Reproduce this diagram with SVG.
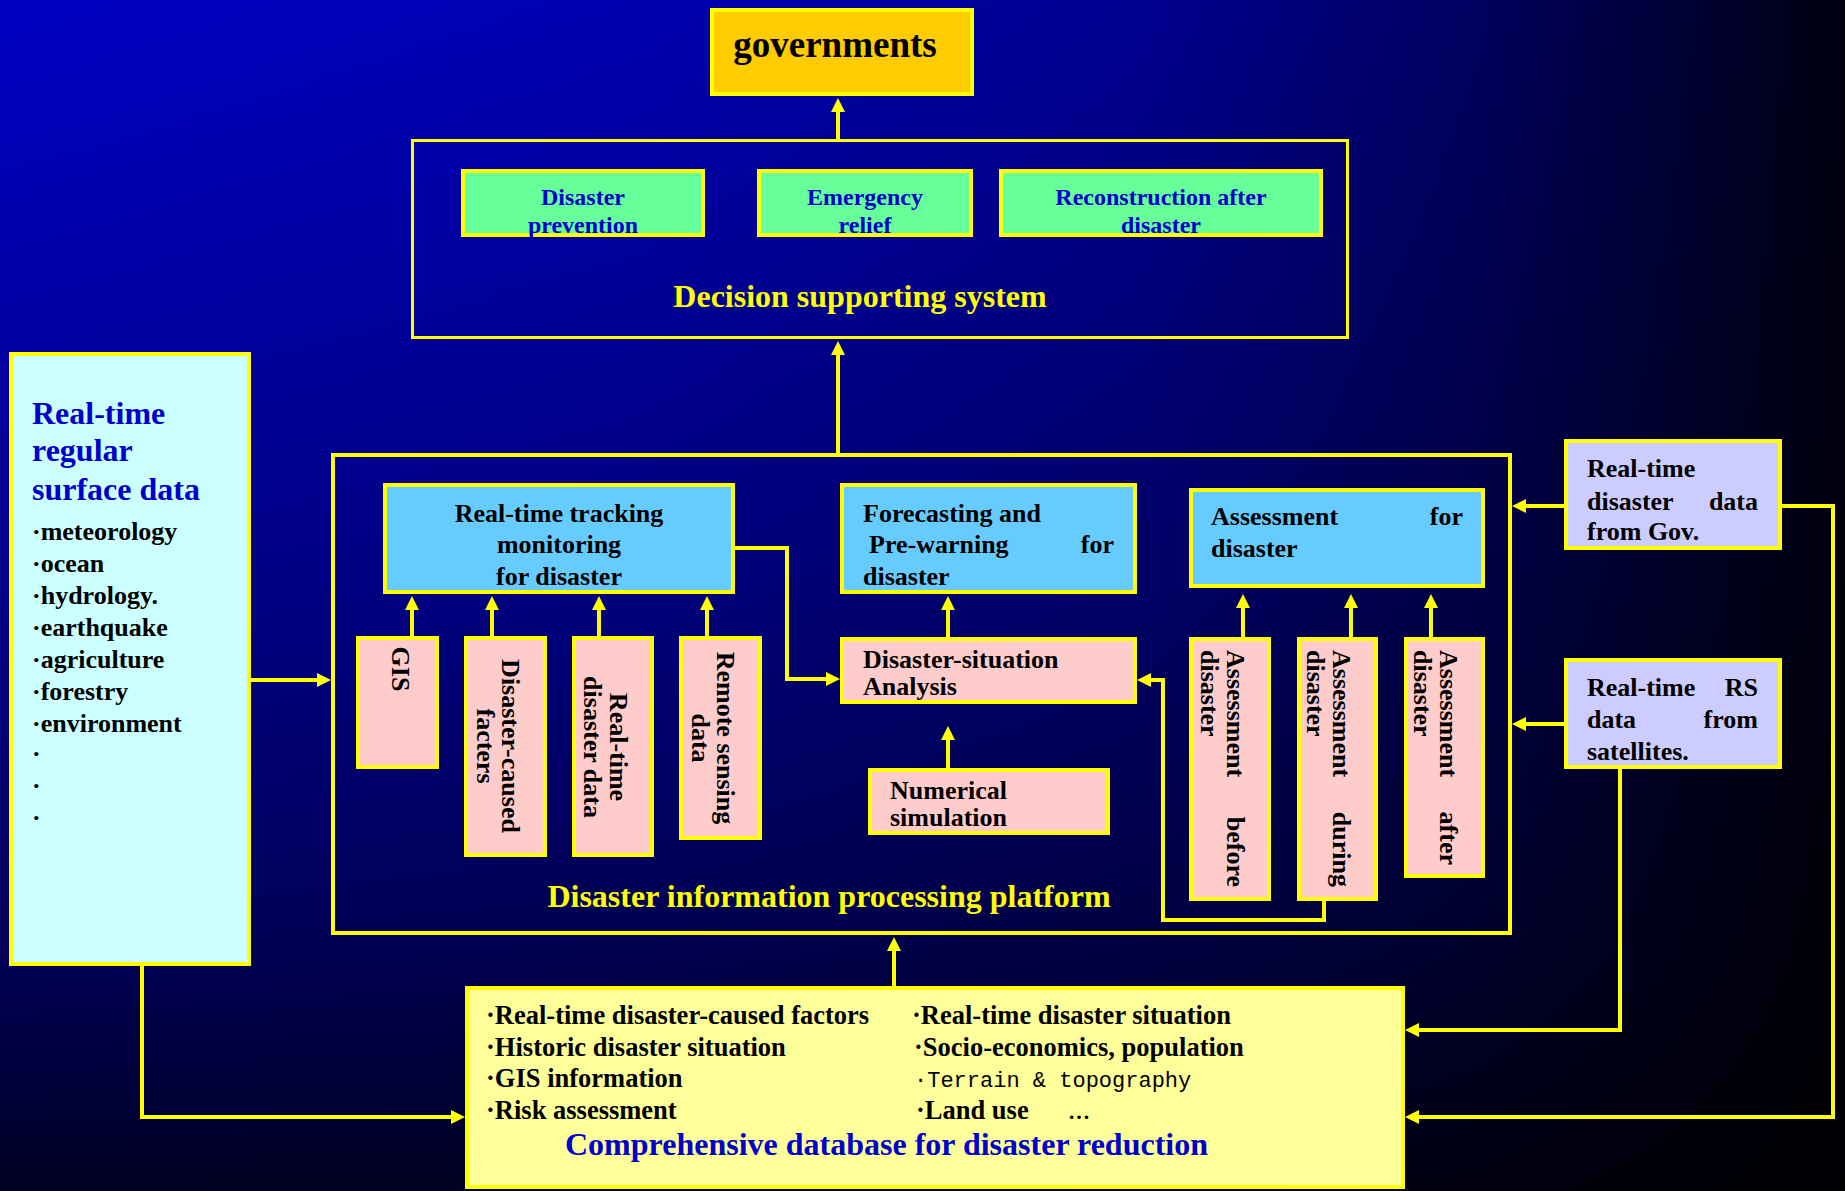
<svg xmlns="http://www.w3.org/2000/svg" width="1845" height="1191" viewBox="0 0 1845 1191">
<defs>
<linearGradient id="bgH" x1="0" y1="0" x2="1" y2="0">
<stop offset="0" stop-color="#0000C4"/>
<stop offset="0.35" stop-color="#0000B0"/>
<stop offset="0.62" stop-color="#000090"/>
<stop offset="0.8" stop-color="#000060"/>
<stop offset="1" stop-color="#000012"/>
</linearGradient>
<linearGradient id="bgV" x1="0" y1="0" x2="0" y2="1">
<stop offset="0" stop-color="#000000" stop-opacity="0"/>
<stop offset="0.5" stop-color="#000000" stop-opacity="0.3"/>
<stop offset="0.8" stop-color="#000000" stop-opacity="0.55"/>
<stop offset="1" stop-color="#000000" stop-opacity="0.83"/>
</linearGradient>
<marker id="ah" markerUnits="userSpaceOnUse" markerWidth="14" markerHeight="14" viewBox="0 0 14 14" refX="4" refY="7" orient="auto">
<path d="M0,0 L14,7 L0,14 z" fill="#FFFF00"/>
</marker>
</defs>
<style>
.box{stroke:#FFFF00;stroke-width:4}
.frame{fill:none;stroke:#FFFF00;stroke-width:4}
.conn{fill:none;stroke:#FFFF00;stroke-width:4}
.arr{marker-end:url(#ah)}
.pink{fill:#FFCCCC}
.sky{fill:#66CCFF}
.green{fill:#66FF99}
.lav{fill:#CCCCFF}
.t{font-family:"Liberation Serif","Times New Roman",serif;font-weight:bold;font-size:26px;fill:#000000}
.g{font-size:24px;fill:#0000CC;text-anchor:middle}
.y{font-size:32px;fill:#FFFF00}
.b{fill:#0000CC}
.m{text-anchor:middle}
.e{text-anchor:end}
.db{font-size:26.5px}
.mono{font-family:"Liberation Mono","Courier New",monospace;font-weight:normal;font-size:22px;fill:#000000}
</style>
<rect x="0" y="0" width="1845" height="1191" fill="url(#bgH)"/>
<rect x="0" y="0" width="1845" height="1191" fill="url(#bgV)"/>

<g id="decision-supporting-system">
<rect x="412.5" y="140.5" width="935" height="197" fill="none" stroke="#FFFF00" stroke-width="3"/>
<text class="t y m" x="860" y="307">Decision supporting system</text>
</g>
<g id="disaster-information-processing-platform">
<rect class="frame" x="333" y="455" width="1177" height="478"/>
<text class="t y m" x="829" y="907">Disaster information processing platform</text>
</g>

<g id="connectors">
<path class="conn arr" d="M838,139 L838,108"/>
<path class="conn arr" d="M838,453 L838,351"/>
<path class="conn arr" d="M894,986 L894,947"/>
<path class="conn arr" d="M251,680 L321,680"/>
<path class="conn arr" d="M412,636 L412,606"/>
<path class="conn arr" d="M492,636 L492,606"/>
<path class="conn arr" d="M599,636 L599,606"/>
<path class="conn arr" d="M707,636 L707,606"/>
<path class="conn arr" d="M948,637 L948,606"/>
<path class="conn arr" d="M948,768 L948,736"/>
<path class="conn arr" d="M1243,637 L1243,604"/>
<path class="conn arr" d="M1351,637 L1351,604"/>
<path class="conn arr" d="M1431,637 L1431,604"/>
<path class="conn arr" d="M735,548 L787,548 L787,679 L830,679"/>
<path class="conn arr" d="M1324,901 L1324,920 L1163,920 L1163,680 L1147,680"/>
<path class="conn arr" d="M1564,506 L1522,506"/>
<path class="conn arr" d="M1564,724 L1522,724"/>
<path class="conn arr" d="M1782,506 L1833,506 L1833,1117 L1415,1117"/>
<path class="conn arr" d="M1620,769 L1620,1030 L1415,1030"/>
<path class="conn arr" d="M142,966 L142,1117 L455,1117"/>
</g>

<g id="governments">
<rect class="box" x="712" y="10" width="260" height="84" fill="#FFCC00"/>
<text class="t m" x="835" y="57" style="font-size:37px">governments</text>
</g>
<g id="disaster-prevention">
<rect class="box green" x="463" y="171" width="240" height="64"/>
<text class="t g" x="583" y="205">Disaster</text>
<text class="t g" x="583" y="233">prevention</text>
</g>
<g id="emergency-relief">
<rect class="box green" x="759" y="171" width="212" height="64"/>
<text class="t g" x="865" y="205">Emergency</text>
<text class="t g" x="865" y="233">relief</text>
</g>
<g id="reconstruction">
<rect class="box green" x="1001" y="171" width="320" height="64"/>
<text class="t g" x="1161" y="205">Reconstruction after</text>
<text class="t g" x="1161" y="233">disaster</text>
</g>

<g id="surface-data">
<rect class="box" x="11" y="354" width="238" height="610" fill="#CCFFFF"/>
<text class="t b" x="32" y="424" style="font-size:32px">Real-time</text>
<text class="t b" x="32" y="461" style="font-size:32px">regular</text>
<text class="t b" x="32" y="500" style="font-size:32px">surface data</text>
<text class="t" x="32" y="540">·meteorology</text>
<text class="t" x="32" y="572">·ocean</text>
<text class="t" x="32" y="604">·hydrology.</text>
<text class="t" x="32" y="636">·earthquake</text>
<text class="t" x="32" y="668">·agriculture</text>
<text class="t" x="32" y="700">·forestry</text>
<text class="t" x="32" y="732">·environment</text>
<text class="t" x="32" y="762">·</text>
<text class="t" x="32" y="794">·</text>
<text class="t" x="32" y="826">·</text>
</g>

<g id="tracking">
<rect class="box sky" x="385" y="485" width="348" height="107"/>
<text class="t m" x="559" y="522">Real-time tracking</text>
<text class="t m" x="559" y="553">monitoring</text>
<text class="t m" x="559" y="585">for disaster</text>
</g>
<g id="forecasting">
<rect class="box sky" x="842" y="485" width="293" height="107"/>
<text class="t" x="863" y="522">Forecasting and</text>
<text class="t" x="869" y="553">Pre-warning</text>
<text class="t e" x="1114" y="553">for</text>
<text class="t" x="863" y="585">disaster</text>
</g>
<g id="assessment">
<rect class="box sky" x="1191" y="490" width="292" height="96"/>
<text class="t" x="1211" y="525">Assessment</text>
<text class="t e" x="1463" y="525">for</text>
<text class="t" x="1211" y="557">disaster</text>
</g>

<g id="gis">
<rect class="box pink" x="358" y="638" width="79" height="129"/>
<text class="t m" transform="translate(392,669) rotate(90)">GIS</text>
</g>
<g id="disaster-caused-facters">
<rect class="box pink" x="466" y="638" width="79" height="217"/>
<text class="t m" transform="translate(502,746) rotate(90)">Disaster-caused</text>
<text class="t m" transform="translate(477,746) rotate(90)">facters</text>
</g>
<g id="real-time-disaster-data">
<rect class="box pink" x="574" y="638" width="78" height="217"/>
<text class="t m" transform="translate(610,747) rotate(90)">Real-time</text>
<text class="t m" transform="translate(584,747) rotate(90)">disaster data</text>
</g>
<g id="remote-sensing-data">
<rect class="box pink" x="681" y="638" width="79" height="200"/>
<text class="t m" transform="translate(717,738) rotate(90)">Remote sensing</text>
<text class="t m" transform="translate(692,738) rotate(90)">data</text>
</g>

<g id="disaster-situation-analysis">
<rect class="box pink" x="842" y="639" width="293" height="63"/>
<text class="t" x="863" y="668">Disaster-situation</text>
<text class="t" x="863" y="695">Analysis</text>
</g>
<g id="numerical-simulation">
<rect class="box pink" x="870" y="770" width="238" height="63"/>
<text class="t" x="890" y="799">Numerical</text>
<text class="t" x="890" y="826">simulation</text>
</g>

<g id="assessment-before">
<rect class="box pink" x="1191" y="639" width="78" height="260"/>
<text class="t" transform="translate(1227,650) rotate(90)">Assessment</text>
<text class="t e" transform="translate(1227,887) rotate(90)">before</text>
<text class="t" transform="translate(1201,650) rotate(90)">disaster</text>
</g>
<g id="assessment-during">
<rect class="box pink" x="1299" y="639" width="77" height="260"/>
<text class="t" transform="translate(1333,650) rotate(90)">Assessment</text>
<text class="t e" transform="translate(1333,887) rotate(90)">during</text>
<text class="t" transform="translate(1307,650) rotate(90)">disaster</text>
</g>
<g id="assessment-after">
<rect class="box pink" x="1406" y="639" width="77" height="237"/>
<text class="t" transform="translate(1440,650) rotate(90)">Assessment</text>
<text class="t e" transform="translate(1440,865) rotate(90)">after</text>
<text class="t" transform="translate(1414,650) rotate(90)">disaster</text>
</g>

<g id="gov-data">
<rect class="box lav" x="1566" y="441" width="214" height="107"/>
<text class="t" x="1587" y="477">Real-time</text>
<text class="t" x="1587" y="510">disaster</text>
<text class="t e" x="1758" y="510">data</text>
<text class="t" x="1587" y="540">from Gov.</text>
</g>
<g id="rs-data">
<rect class="box lav" x="1566" y="660" width="214" height="107"/>
<text class="t" x="1587" y="696">Real-time</text>
<text class="t e" x="1758" y="696">RS</text>
<text class="t" x="1587" y="728">data</text>
<text class="t e" x="1758" y="728">from</text>
<text class="t" x="1587" y="760">satellites.</text>
</g>

<g id="database">
<rect class="box" x="467" y="988" width="936" height="199" fill="#FFFF99"/>
<text class="t db" x="486" y="1024">·Real-time disaster-caused factors</text>
<text class="t db" x="486" y="1056">·Historic disaster situation</text>
<text class="t db" x="486" y="1087">·GIS information</text>
<text class="t db" x="486" y="1119">·Risk assessment</text>
<text class="t db" x="912" y="1024">·Real-time disaster situation</text>
<text class="t db" x="914" y="1056">·Socio-economics, population</text>
<text class="mono" x="914" y="1087">·Terrain &amp; topography</text>
<text class="t db" x="916" y="1119">·Land use</text>
<text class="t" x="1068" y="1119" style="font-size:22px">…</text>
<text class="t b" x="565" y="1155" style="font-size:32px">Comprehensive database for disaster reduction</text>
</g>
</svg>
